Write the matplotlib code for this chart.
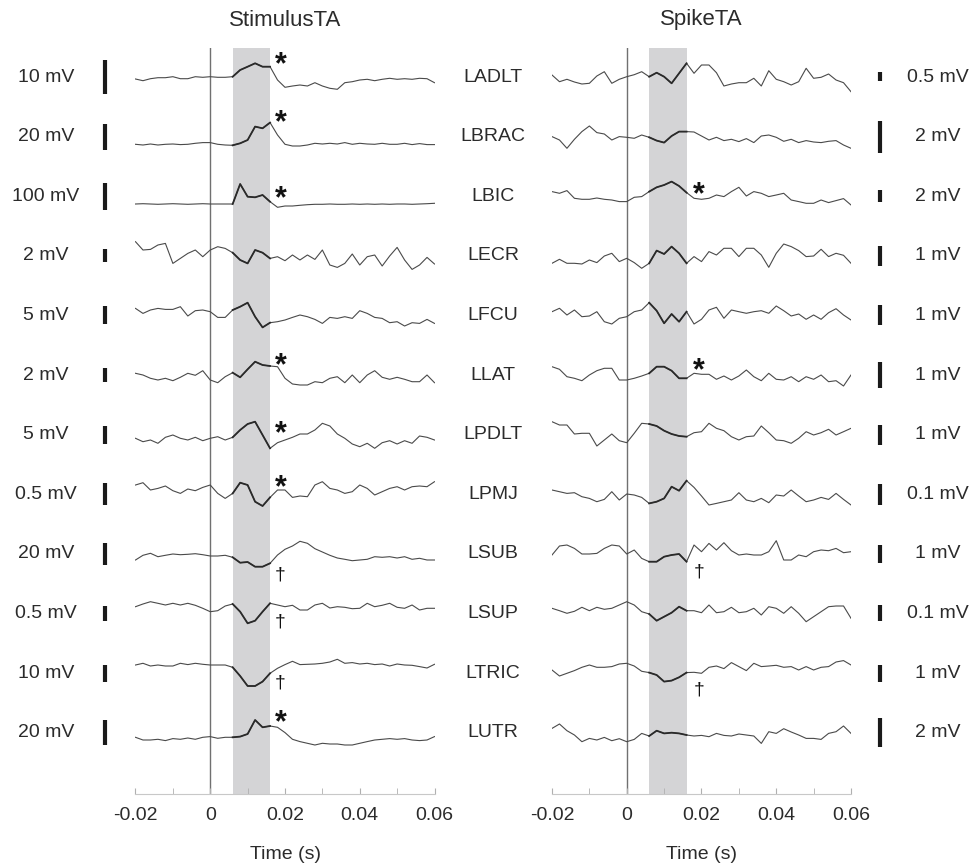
import numpy as np
import matplotlib
matplotlib.use("Agg")
import matplotlib.pyplot as plt

plt.rcParams["font.family"] = ["Liberation Sans", "DejaVu Sans"]

# sample times (s), one value every 2 ms
t = np.linspace(-0.02, 0.06, 41)
win = (0.006, 0.016)

muscles = ["LADLT", "LBRAC", "LBIC", "LECR", "LFCU", "LLAT",
           "LPDLT", "LPMJ", "LSUB", "LSUP", "LTRIC", "LUTR"]
stim_units = ["10 mV", "20 mV", "100 mV", "2 mV", "5 mV", "2 mV",
              "5 mV", "0.5 mV", "20 mV", "0.5 mV", "10 mV", "20 mV"]
spike_units = ["0.5 mV", "2 mV", "2 mV", "1 mV", "1 mV", "1 mV",
               "1 mV", "0.1 mV", "1 mV", "0.1 mV", "1 mV", "2 mV"]

# scale bar heights, in the same display units as the traces
stim_bar = [34, 26, 27, 13, 18, 14, 18, 22, 22, 15, 17, 25]
spike_bar = [9, 32, 12, 20, 20, 26, 20, 21, 18, 16, 17, 29]

# resting level of each trace relative to its row
stim_dc = [-2, -7.7, -7.8, -0.9, 3.7, 0, -5.4, 2.5, -2.2, 8.4, 8.7, -5.7]
spike_dc = [-3, -1.7, -2.1, -2.5, 0.4, 0, -0.4, -2.5, 1.1, 3.4, 4.7, -4.1]

# stimulus triggered averages
stim_LADLT = [0, -1.7, 0.3, 1.3, 1.3, 2.3, 0.3, 0.3, 2.3, 1.7, 2.3, 1.7, 1.7, 2.3, 9, 12.3, 15.7, 12.3, 12.3, -1, -8.3,
              -7, -6, -7, -3.7, -7, -9.3, -10.3, -3.7, -2.7, -1, -0.3, -1.7, -0.3, 0.7, -0.3, 0.3, -0.3, 0.7, 0.3, -3.7]
stim_LBRAC = [0, -0.7, 0.3, -0.7, 0, 0.3, -0.3, 0, 1, 1.7, 1.7, 0, -0.7, -1, 1, 4.3, 17.7, 16, 21.7, 9.3, 0,
              -1.7, -1.7, -0.7, 1, 0.3, 1, 0.3, 1.7, 0, 1, 0.3, 0, 1, 0, 0, 1, -0.3, 0.7, -0.3, -0.3]
stim_LBIC = [0, 0.3, 0, -0.3, 0, 0.3, 0, -0.3, 0, 0.3, 0, 0, 0, 0, 20, 7.3, 6.7, 9, 2.3, -3.3, -2,
             -2, -1.3, -0.7, -0.3, -0.3, 0, -0.3, -0.3, 0, -0.3, 0, -0.3, 0, -0.3, 0, 0, -0.3, 0, 0.3, 0.7]
stim_LECR = [15, 6.7, 7.3, 11.7, 13.3, -6.7, -1.7, 3.3, 6.7, 0, 6.7, 10, 8.3, 4, -3.3, -6.7, 6.7, 4, -1.7, 0, -4,
             1.7, -3.3, 1.7, -2.7, 6.7, -8.3, -10.7, -6.7, 2.7, -8.3, 0, 1.7, -9.3, 0.7, 9.3, -3.3, -12.7, -8.3, -0.7, -7.3]
stim_LFCU = [3.3, -1.7, 1.7, 3.3, 2.3, 2.3, 5, -4.3, 1, 1.7, 0, -5.7, -5.7, 1.7, 5, 9, -5, -15.7, -11, -10, -8.3,
             -5.7, -3.3, -5, -7.7, -11.7, -5.7, -6.7, -5, -6.7, 1, -1.7, -5.7, -6.7, -11, -10, -14.3, -11, -11.7, -7.7, -11.7]
stim_LLAT = [1.7, 0, -3.3, -5, -3.3, -5.7, -2.3, 1.7, -0.3, 4.3, -5, -7.7, -1.7, 2.3, -2.3, 5.7, 13.3, 10, 9, 8.3, -3.3,
             -9, -10, -10, -6.7, -7.7, -3.3, -1.7, -7.7, 0, -7.7, 0, 4.3, -2.3, -4.3, -2.3, -4.3, -6.7, -6.7, 0, -7.7]
stim_LPDLT = [1.7, -1.7, 0, -3.3, 2.7, 5, 1.7, 0, 2.7, -0.7, 1.7, 3.3, 0, 2.7, 10, 16, 18.3, 5, -8.3, -2.7, 0,
              2.7, 6, 6, 10, 16.7, 14, 6, 1.7, -4, -6.7, -3.3, -8.3, -2.7, -0.7, -4, -0.7, -3.3, 4, 2.7, 0]
stim_LPMJ = [6.7, 9, 1.7, 3.3, 5.7, 1, -1.7, 2.7, 1, 4.3, 6.7, -1.7, -6.7, -1.7, 9, 6.7, -10, -14.3, -5.7, 1.7, 1.7,
             -5.7, -4.3, -5, 6.7, 10, 3.3, 1.7, -1.7, 0, 6.7, 3.3, -3.3, 0, 3.3, 5, 1.7, 5, 5.7, 5, 10]
stim_LSUB = [-4, 0.7, 2.7, -0.7, 0.7, 2, 1.3, 1.7, 2.3, 1.3, 0, 0, 0.7, -1.3, -6.7, -6, -10.7, -10.7, -7.3, 1, 6.7,
             10, 14.7, 12.7, 7.3, 4, 0.7, -2, -3.3, -4.7, -4, -3.3, -0.7, -1.3, -0.7, -2, -0.7, -3.3, -2.3, -4, -4]
stim_LSUP = [-1.7, 1, 3.3, 1.7, 0, 1.7, 0, 1.7, -0.3, -3.3, -6.7, -5.7, -1, 1, -6.7, -18.3, -15.7, -6.7, 1.7, 0, -1.7,
             -0.3, -5, -5, 0, 1.7, -3, -1.7, -2.3, -3.7, -3.3, 1.7, -1.7, -0.3, 1.7, -2.3, -3.3, 0, -5, -3.3, -3.3]
stim_LTRIC = [-0.7, 1, -1.7, -0.7, -1.7, -1.7, 1, -0.3, 1, 0, -0.7, -0.7, -0.7, -3, -11.7, -21.7, -21.7, -17.3, -9, -4, -0.3,
              3, -0.3, 0, 0.3, 1, 2.3, 5, 1, 1.7, 0.3, 1, -0.3, 0.3, -1.7, 0.3, -0.7, -1, -2.3, -3.7, 0]
stim_LUTR = [1, -1.7, -1.7, -1, -2.3, -0.3, -1, 0.3, -1, 1, 1.7, 0, 1, 1, 1.7, 4.3, 18.3, 11, 12.3, 11, 5.7,
             -1, -3.3, -5, -6.7, -5, -5.7, -5.7, -6.7, -6.7, -5, -3.3, -1.7, -1, -0.3, -1, -0.3, -1.7, -2.3, -1.7, 1.7]

# spike triggered averages
spike_LADLT = [5, -1.7, 0.7, -2, -4, -3.3, 4, 8.3, -3.3, 0.7, 3.3, 5.3, 8.3, 3.3, 7.3, 3.3, -3.3, 6.7, 16.7, 6.7, 15,
               15, 7.3, -6, -4, -2.7, -2.7, 1.7, -6, 9.3, 0.7, -1.7, -5, -1.7, 11.7, 1.7, 2.7, 6, 0, -2.7, -11.7]
spike_LBRAC = [1.7, -1.7, -10, -1, 6.7, 12.3, 5.7, 4.3, -1.7, 1.7, 1, 0, 3.3, 1, -2.3, -4.3, 2.3, 6.7, 6.7, 6.3, 2.3,
               -1.7, 1, -2.3, -1, -3.3, -0.3, -4.3, 2.3, 3.3, 1, -3, -1, -4.3, -2.3, -3.7, -4.3, -3, -2.3, -6.7, -10]
spike_LBIC = [6.7, 5, 7.7, 0, -1, -1, 0.3, -1, -1.7, -3.3, -3.3, 1, 1.7, 6.7, 11, 13.3, 16.7, 12.3, 5.7, 0, -1,
              0, 3.3, 1.7, 6.7, 11, 2.3, 6.7, 5, 1.7, 3.3, 5, -1.7, -3.3, -5, -5, -1.7, -4.3, -2.3, -0.3, -6.7]
spike_LECR = [-5, -1, -5, -5, -5.7, -1.7, -4.3, 2.3, 5, -3.3, 0, -4.3, -10, -5, 7.7, 4.3, 11.7, 5, -5, 1.7, -3.3,
              6.7, 3.3, 10, 10, 1.7, 10, 10, 3.3, -9, 5, 14.3, 11.7, 7.7, 1.7, 2.3, 9, 1.7, 5, 3, -5]
spike_LFCU = [3.3, 6.7, 0, 5, -1.7, -1, 3.3, -6.7, -9, -3.3, -1.7, 3.3, 5, 12.3, 4.3, -8.3, 1, -6.7, 3.3, -9, -4.3,
              5, 7.7, -3.3, 5, 3.3, 1.7, 3.3, 4.3, 1.7, 9, 4.3, -1, 1, -4.3, 0, -4.3, 2.3, 6.3, 0, -5]
spike_LLAT = [8.3, 5.7, -1.7, -3.3, -5.7, 0, 4.3, 6.7, 6.7, -5, -5, -3.3, -1, 1.7, 8.3, 8.3, 4.3, -3.3, -3.3, 1.7, 0.7,
              0.7, -4.3, -1, -5, -1, 5, -1.7, -5.7, 1.7, -4.3, -5, -1.7, -6.7, -1.7, -4.3, 0, -6.7, -5.7, -11, 0]
spike_LPDLT = [13.3, 10, 10, 1, 1.7, 1.7, -11, -5, 1, -5.7, -7.7, 1.7, 11.7, 11, 9, 4.3, 1, -1, -1.7, 2.3, 3.3,
               11.7, 6.7, 4.3, -1.7, -5, -1.7, -1, 9, 2.3, -5, -5.7, -8.3, -3.3, 3.3, 0, 2.3, 5.7, 0, 3.3, 6.7]
spike_LPMJ = [6.7, 5, 3.3, 4, 0, -1.7, -5, -2.7, 5, -3.3, 2.7, 1.7, -0.7, -6.7, -5, -1.7, 10, 6, 16, 9.3, 0.7,
              -8.3, -6.7, -5, -3.3, 4, -3.3, -5, -1.7, -6, 1.7, 0.7, 6.7, 0.7, -5, -3.3, -0.7, -2.7, 3.3, -2.7, -8.3]
spike_LSUB = [-2.3, 6.7, 7.7, 4.3, -1.3, -1.3, -0.7, 4.3, 7.7, 6.7, -1.3, 2.7, -5.7, -9, -9, -4, -2.3, -1.3, -9, 7.7, 1,
              9.3, 2.7, 10, 2, -2.3, -1.3, -2.3, -2.3, 1, 12, -7.3, -7.3, -2.3, -4, 1, 2.7, 2, 4.3, 0, 1]
spike_LSUP = [1.7, -0.7, -3.3, -1.3, 2.7, -0.7, 2.7, 0.7, 1.7, 5, 8.3, 5, -1.7, -4, -10.7, -6.7, -2.7, 3.3, -0.7, -0.7, -2.7,
              5, -2.7, -1.7, 2.7, -2.7, -1.7, 1.7, -5, 3.3, 1.7, -3.3, 3.3, -3.3, -11.7, -6.7, -1.7, 3.3, 4, 4, -8.3]
spike_LTRIC = [-1.7, -7.7, -5, -2.3, 1, 3.3, 1, 1, 1.7, 4.3, 5, 2.3, -3, -4.3, -6.7, -13.3, -12.3, -9, -4.3, -4, -5,
               1, 2.3, -0.3, 5.7, 1.7, -2.3, 5, 1.7, 2.3, 3, 1, 1.7, -1.7, 1.7, -1.7, 1, 1.7, 6.3, 7.7, 3.3]
spike_LUTR = [8.3, 12.7, 6, 1.7, -5, -1.7, -3.3, -0.7, -4, -2, -5, -2.7, 3.3, 0.7, 6, 3.3, 4, 3.3, 1.7, 0.7, 1.3,
              0, 3.3, 1.3, 0.7, 2.7, 1.7, 0.7, -6.7, 5, 3.3, 8, 4.7, 1.7, -1.7, -1.7, -2.7, 3.3, 5, 10.7, 3.3]

stim_traces = [stim_LADLT, stim_LBRAC, stim_LBIC, stim_LECR, stim_LFCU, stim_LLAT,
               stim_LPDLT, stim_LPMJ, stim_LSUB, stim_LSUP, stim_LTRIC, stim_LUTR]
spike_traces = [spike_LADLT, spike_LBRAC, spike_LBIC, spike_LECR, spike_LFCU, spike_LLAT,
                spike_LPDLT, spike_LPMJ, spike_LSUB, spike_LSUP, spike_LTRIC, spike_LUTR]

# significance marks: row, symbol, height above the row
stim_mark_rows = [0, 1, 2, 5, 6, 7, 8, 9, 10, 11]
stim_mark_sym = ["*", "*", "*", "*", "*", "*", "\u2020", "\u2020", "\u2020", "*"]
stim_mark_h = [19, 20, 4, 16, 7, 13, -21, -9, -10, 16]
spike_mark_rows = [2, 5, 8, 10]
spike_mark_sym = ["*", "*", "\u2020", "\u2020"]
spike_mark_h = [8, 11, -18, -17]

W, H = 978, 863
ROW = 59.6
TOP = 77
txt = "#2b2b2b"

fig = plt.figure(figsize=(W / 100, H / 100), dpi=100)


def panel(left_px, traces, dc, mark_rows, mark_sym, mark_h, mark_t, title):
    ax = fig.add_axes([left_px / W, 1 - 794 / H, 299 / W, 746 / H])
    ax.set_xlim(-0.02, 0.06)
    ax.set_ylim(-(794 - TOP) / ROW, (TOP - 48) / ROW)
    ax.axvspan(*win, color="#d4d4d6", lw=0, zorder=0)
    ax.axvline(0, color="#707070", lw=1.0, zorder=1)
    inwin = (t >= win[0] - 1e-9) & (t <= win[1] + 1e-9)
    for i, (tr, d) in enumerate(zip(traces, dc)):
        y = -i + (np.array(tr) + d) / ROW
        ax.plot(t, y, color="#4a4a4a", lw=0.8, zorder=2, solid_joinstyle="round")
        ax.plot(t[inwin], y[inwin], color="#2a2a2a", lw=1.3, zorder=3,
                solid_joinstyle="round")
    for r, s, h in zip(mark_rows, mark_sym, mark_h):
        if s == "*":
            # the star glyph sits high in its box, pull it down a little
            ax.text(mark_t, -r + (h - 7) / ROW, s, fontsize=22, fontweight="bold",
                    ha="center", va="center", color="#111111")
        else:
            ax.text(mark_t, -r + h / ROW, s, fontsize=14,
                    ha="center", va="center", color="#111111")
    for side in ["top", "left", "right"]:
        ax.spines[side].set_visible(False)
    ax.spines["bottom"].set_color("#c8c8c8")
    ax.set_yticks([])
    ax.set_xticks([-0.02, 0, 0.02, 0.04, 0.06])
    ax.set_xticklabels(["-0.02", "0", "0.02", "0.04", "0.06"])
    ax.set_xticks(np.arange(-0.01, 0.06, 0.02), minor=True)
    ax.tick_params(axis="x", which="both", direction="in", length=4,
                   color="#b0b0b0", labelsize=14, labelcolor=txt, pad=9)
    ax.set_xlabel("Time (s)", fontsize=14, color=txt, labelpad=16)
    ax.patch.set_alpha(0)
    fig.text((left_px + 149.5) / W, 1 - 20 / H, title, fontsize=16,
             ha="center", va="center", color=txt)
    return ax


panel(135.5, stim_traces, stim_dc, stim_mark_rows, stim_mark_sym, stim_mark_h,
      0.0188, "StimulusTA")
panel(552, spike_traces, spike_dc, spike_mark_rows, spike_mark_sym, spike_mark_h,
      0.0193, "SpikeTA")

# labels and scale bars in pixel space
ov = fig.add_axes([0, 0, 1, 1])
ov.set_xlim(0, W)
ov.set_ylim(H, 0)
ov.axis("off")
for i in range(len(muscles)):
    yc = TOP + ROW * i
    ov.text(46, yc, stim_units[i], fontsize=14, ha="center", va="center", color=txt)
    ov.plot([105, 105], [yc - stim_bar[i] / 2, yc + stim_bar[i] / 2],
            color="#1a1a1a", lw=3, solid_capstyle="butt")
    ov.text(493, yc, muscles[i], fontsize=14, ha="center", va="center", color=txt)
    ov.plot([880, 880], [yc - spike_bar[i] / 2, yc + spike_bar[i] / 2],
            color="#1a1a1a", lw=3, solid_capstyle="butt")
    ov.text(938, yc, spike_units[i], fontsize=14, ha="center", va="center", color=txt)

fig.savefig("out.png", dpi=100)
